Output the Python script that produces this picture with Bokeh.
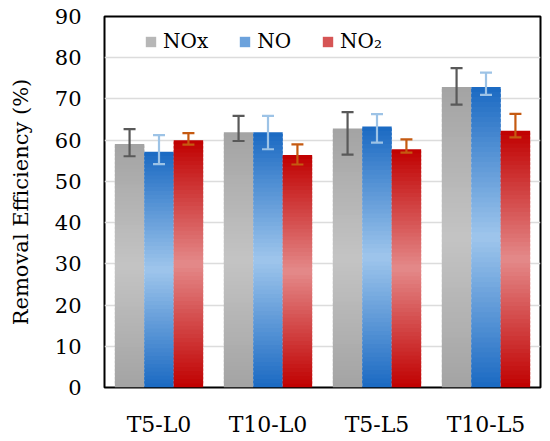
import numpy as np
from bokeh.plotting import figure
from bokeh.models import ColumnDataSource, FactorRange, Legend, LegendItem, Range1d, SingleIntervalTicker
from bokeh.transform import dodge
from bokeh.embed import file_html
from bokeh.resources import INLINE

categories = ["T5-L0", "T10-L0", "T5-L5", "T10-L5"]
series_names = ["NOx", "NO", "NO₂"]

nox = [59.1, 61.9, 62.8, 72.9]
nox_hi = [62.7, 65.9, 66.8, 77.5]
nox_lo = [56.1, 59.8, 56.5, 68.6]

no = [57.2, 61.9, 63.3, 72.9]
no_hi = [61.2, 65.9, 66.3, 76.4]
no_lo = [54.2, 57.8, 59.4, 71.0]

no2 = [60.0, 56.4, 57.8, 62.3]
no2_hi = [61.7, 59.0, 60.2, 66.4]
no2_lo = [58.9, 54.1, 57.0, 60.7]

FONT = "DejaVu Serif"
N = 60
OFFS = [-0.27, 0.0, 0.27]
W = 0.27
CAP = 0.055

styles = [
    dict(dark="#a3a3a3", light="#c4c4c4", err="#595959"),
    dict(dark="#1a69c2", light="#9fc6ec", err="#9dc3e6"),
    dict(dark="#c00000", light="#e48a8a", err="#c55a11"),
]


def hex2rgb(h):
    h = h.lstrip("#")
    return np.array([int(h[i:i + 2], 16) for i in (0, 2, 4)], dtype=float)


def rgb2hex(c):
    return "#%02x%02x%02x" % tuple(int(round(v)) for v in c)


def gradient_source(vals, dark, light):
    d, l = hex2rgb(dark), hex2rgb(light)
    xs, bots, tops, cols = [], [], [], []
    for c, v in zip(categories, vals):
        edges = np.linspace(0, v, N + 1)
        step = v / N
        for i in range(N):
            f = (i + 0.5) / N
            t = min(1.0, abs(f - 0.5) * 2)
            col = l + (d - l) * t
            xs.append(c)
            bots.append(edges[i])
            tops.append(edges[i + 1] + (0.6 * step if i < N - 1 else 0.0))
            cols.append(rgb2hex(col))
    return ColumnDataSource(dict(x=xs, bottom=bots, top=tops, color=cols))


p = figure(
    x_range=FactorRange(*categories, range_padding=0),
    y_range=Range1d(0, 90),
    width=548, height=439,
    output_backend="svg", toolbar_location=None,
    min_border_left=104, min_border_right=8, min_border_top=16, min_border_bottom=51,
)
p.background_fill_color = "white"
p.border_fill_color = "white"
p.outline_line_color = "black"
p.outline_line_width = 2

p.xgrid.grid_line_color = None
p.ygrid.grid_line_color = "#dcdcdc"
p.ygrid.grid_line_width = 1.5

p.yaxis.ticker = SingleIntervalTicker(interval=10)
p.yaxis.axis_line_color = None
p.yaxis.major_tick_line_color = None
p.yaxis.minor_tick_line_color = None
p.yaxis.major_label_standoff = 17
p.yaxis.major_label_text_font = FONT
p.yaxis.major_label_text_font_size = "21px"
p.yaxis.major_label_text_color = "black"
p.yaxis.axis_label = "Removal Efficiency (%)"
p.yaxis.axis_label_text_font = FONT
p.yaxis.axis_label_text_font_style = "normal"
p.yaxis.axis_label_text_font_size = "21px"
p.yaxis.axis_label_text_color = "black"
p.yaxis.axis_label_standoff = 19

p.xaxis.axis_line_color = None
p.xaxis.major_tick_line_color = None
p.xaxis.minor_tick_line_color = None
p.xaxis.major_label_standoff = 18
p.xaxis.major_label_text_font = FONT
p.xaxis.major_label_text_font_size = "22px"
p.xaxis.major_label_text_color = "black"

legend_items = []
all_vals = [(nox, nox_hi, nox_lo), (no, no_hi, no_lo), (no2, no2_hi, no2_lo)]
for k, ((vals, hi, lo), st, off) in enumerate(zip(all_vals, styles, OFFS)):
    src = gradient_source(vals, st["dark"], st["light"])
    r = p.vbar(x=dodge("x", off, range=p.x_range), bottom="bottom", top="top", width=W,
               source=src, fill_color="color", line_color=None)
    legend_items.append(LegendItem(label=series_names[k], renderers=[r], index=int(N * 0.3)))

for (vals, hi, lo), st, off in zip(all_vals, styles, OFFS):
    esrc = ColumnDataSource(dict(x=categories, hi=hi, lo=lo))
    p.segment(x0=dodge("x", off, range=p.x_range), y0="lo", x1=dodge("x", off, range=p.x_range), y1="hi",
              source=esrc, line_color=st["err"], line_width=2.2)
    p.segment(x0=dodge("x", off - CAP, range=p.x_range), y0="hi", x1=dodge("x", off + CAP, range=p.x_range), y1="hi",
              source=esrc, line_color=st["err"], line_width=2.2)
    p.segment(x0=dodge("x", off - CAP, range=p.x_range), y0="lo", x1=dodge("x", off + CAP, range=p.x_range), y1="lo",
              source=esrc, line_color=st["err"], line_width=2.2)

legend = Legend(items=legend_items, orientation="horizontal", location=(40, 334),
                glyph_width=13, glyph_height=13, label_standoff=6, spacing=30,
                padding=0, margin=0, border_line_color=None, background_fill_alpha=0,
                label_text_font=FONT, label_text_font_size="20px", label_text_color="black")
p.add_layout(legend)

open("out.html", "w").write(file_html(p, INLINE))
